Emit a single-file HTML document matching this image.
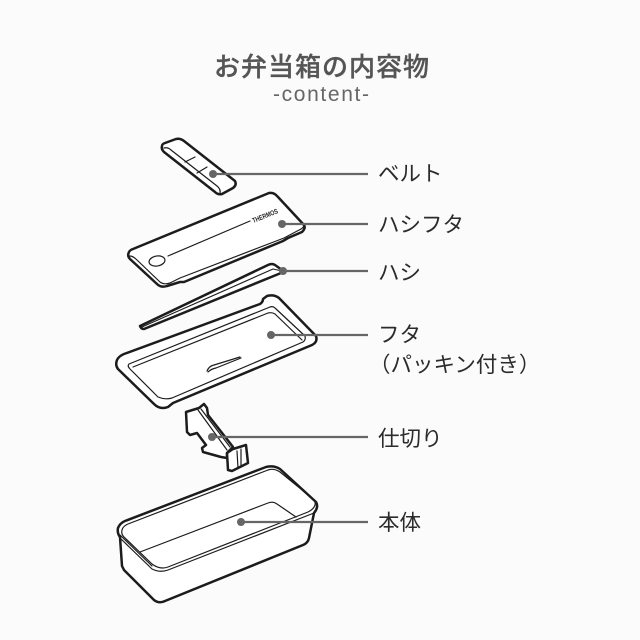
<!DOCTYPE html>
<html lang="ja">
<head>
<meta charset="utf-8">
<style>
html,body{margin:0;padding:0;background:#fbfbfb;}
body{width:640px;height:640px;overflow:hidden;}
svg{display:block;}
text{font-family:"Liberation Sans","Noto Sans CJK JP",sans-serif;}
</style>
</head>
<body>
<svg width="640" height="640" viewBox="0 0 640 640" xmlns="http://www.w3.org/2000/svg">
<rect width="640" height="640" fill="#fbfbfb"/>
<text x="321.5" y="76" text-anchor="middle" font-size="26" font-weight="500" fill="#555" stroke="#555" stroke-width="0.3" textLength="215" lengthAdjust="spacing">お弁当箱の内容物</text>
<text x="321" y="101" text-anchor="middle" font-size="21" fill="#666" textLength="96" lengthAdjust="spacing">-content-</text>

<g fill="none" stroke="#1c1c1c" stroke-width="2.5" stroke-linejoin="round" stroke-linecap="round">
<!-- belt -->
<path fill="#fff" d="M162 146 Q161 149 164 152 L215 192 Q218 195 222 194 L233 188 Q237 185 235 181 L184 141 Q180 138 176 139 L165 143 Q162 144 162 146Z"/>
<path stroke-width="1.2" d="M164 148 Q168 147 171 150 L217 186 Q221 189 220 194 M185 162 L195 157 M197 173 L207 167"/>
<!-- lid -->
<path fill="#fff" d="M129 252 Q127 256 130 259 L157 284 Q161 288 167 286 L180 282 L184 282 L283 241 L288 238 L302 232 Q306 228 304 225 L278 197 Q274 192 269 193 L133 249 Q130 250 129 252Z"/>
<path stroke-width="1.2" d="M130 256 Q133 256 137 260 L160 282 Q164 285 170 283 L180 278 L284 238 L301 229 Q304 227 304 225"/>
<path stroke-width="1.2" d="M168 256 L250 221"/>
<ellipse cx="157" cy="261" rx="8" ry="5" transform="rotate(-10 157 261)" stroke-width="1.2" fill="#fff"/>
<text x="266" y="218" font-size="7" font-weight="700" fill="#222" stroke="none" text-anchor="middle" transform="rotate(-22 266 218)" style="font-family:'Liberation Sans',sans-serif" textLength="27" lengthAdjust="spacingAndGlyphs">THERMOS</text>
<!-- chopsticks -->
<path fill="#fff" d="M140 326 L268 265 Q272 263 275 265 L282 270 L281 273 L144 329 Q141 329 140 326Z"/>
<path stroke-width="1.1" d="M142 327 L273 269 L282 271"/>
<!-- fta -->
<path fill="#fff" d="M117 360 Q115 365 118 369 L154 404 Q160 410 168 407 L173 403 L312 345 Q318 342 316 336 L279 298 Q274 294 267 296 L263 299 Q263 302 260 304 L124 354 Q119 356 117 360Z"/>
<path stroke-width="1.2" d="M129 364 L270 307 Q273 306 275 308 L305 336 Q306 340 303 342 L172 398 Q165 400 158 397 L130 369 Q127 366 129 364Z"/>
<path stroke-width="1.2" d="M133 367 L268 313 Q272 312 275 314 L302 340"/>
<path stroke-width="1.6" d="M175 402 L312 345"/>
<path stroke-width="1.2" d="M207 371 Q209 366 214 365 L240 357 M208 372 Q211 369 216 368 L241 358"/>
<!-- partition -->
<path fill="#fff" d="M186 412 L199 408 L204 404 L207 408 L208 415 L233 447 L227 453 L227 458 L221 457 L203 452 L202 448 L206 445 L197 433 L190 435 L187 432Z"/>
<path fill="#fff" d="M227 453 L233 449 L246 445 L248 463 L232 471 L228 470Z"/>
<path stroke-width="1.2" d="M198 410 L227 450 M201 409 L230 447 M237 451 L238 468 M241 449 L241 466"/>
<!-- body -->
<path fill="#fff" d="M118 528 Q117 533 120 537 L122 566 L124 570 L154 600 Q159 604 165 601 L303 545 Q308 543 309 538 L314 513 Q319 507 316 502 L280 469 Q274 465 266 467 L125 521 Q120 523 118 528Z"/>
<path stroke-width="1.2" d="M122 530 Q121 534 124 537 L152 564 Q160 570 168 567 L308 512 Q314 509 315 505 Q316 501 312 498 L280 472 Q274 468 268 470 L128 524 Q123 526 122 530Z"/>
<path stroke-width="1.2" d="M120 538 L152 569 Q160 573 168 570 L314 513 M120 535 L152 566"/>
<path stroke-width="1.2" d="M140 552 L268 503 Q273 501 277 504 L296 517"/>
</g>

<!-- leader lines -->
<g stroke="#666" stroke-width="2.2" fill="none">
<path d="M213 174 H368"/>
<path d="M282 224 H368"/>
<path d="M283 271 H368"/>
<path d="M271 335 H368"/>
<path d="M212 437 H368"/>
<path d="M241 522 H368"/>
</g>
<g fill="#666">
<circle cx="213" cy="174" r="4"/>
<circle cx="282" cy="224" r="4"/>
<circle cx="283" cy="271" r="4"/>
<circle cx="271" cy="335" r="4"/>
<circle cx="212" cy="437" r="4"/>
<circle cx="241" cy="522" r="4"/>
</g>

<g font-size="21.5" fill="#2b2b2b">
<text x="378" y="181">ベルト</text>
<text x="378" y="232">ハシフタ</text>
<text x="378" y="280">ハシ</text>
<text x="378" y="342">フタ</text>
<text x="369" y="372">（パッキン付き）</text>
<text x="378" y="446">仕切り</text>
<text x="378" y="530">本体</text>
</g>
</svg>
</body>
</html>
